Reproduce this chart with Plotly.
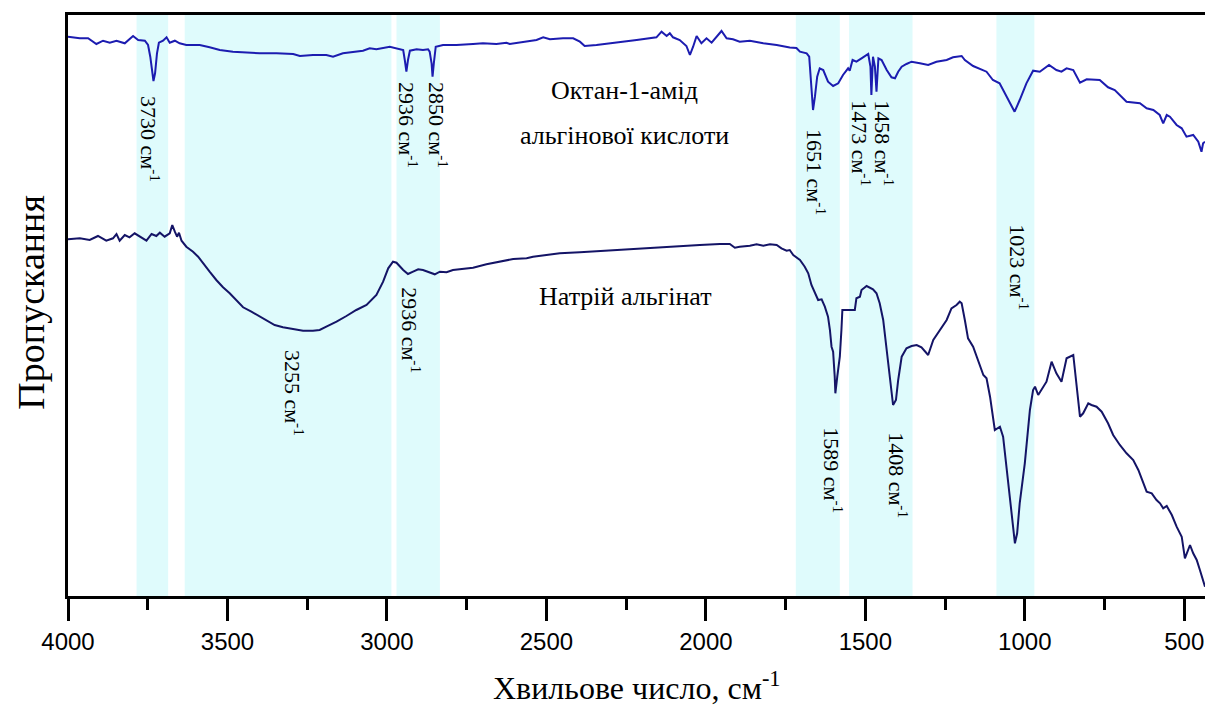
import plotly.graph_objects as go

# ---- Data (wavenumber, cm-1 ; transmittance, arbitrary units) ----
oct_wn = [4000, 3963, 3937, 3911, 3890, 3869, 3848, 3822, 3796, 3780, 3759, 3749, 3742, 3735, 3732, 3727,
          3721, 3715, 3702, 3691, 3681, 3665, 3650, 3629, 3587, 3556, 3524, 3483, 3441, 3399, 3346, 3294,
          3273, 3232, 3190, 3169, 3138, 3106, 3075, 3054, 3033, 2991, 2965, 2949, 2944, 2939, 2934, 2928,
          2907, 2887, 2871, 2866, 2860, 2857, 2853, 2847, 2824, 2782, 2730, 2699, 2657, 2625, 2615, 2573,
          2531, 2510, 2489, 2448, 2416, 2395, 2380, 2343, 2280, 2217, 2155, 2139, 2123, 2113, 2103, 2082,
          2061, 2050, 2040, 2029, 2014, 1998, 1982, 1967, 1951, 1935, 1915, 1894, 1862, 1820, 1778, 1737,
          1716, 1705, 1684, 1676, 1669, 1664, 1658, 1651, 1643, 1632, 1617, 1601, 1585, 1570, 1554, 1549,
          1540, 1528, 1512, 1491, 1484, 1481, 1476, 1470, 1465, 1459, 1449, 1433, 1418, 1407, 1397, 1386,
          1371, 1355, 1329, 1303, 1277, 1245, 1225, 1198, 1188, 1162, 1120, 1100, 1079, 1057, 1032, 1016,
          995, 974, 953, 924, 901, 885, 869, 848, 827, 806, 786, 765, 739, 718, 681, 639,
          618, 597, 577, 566, 555, 545, 524, 508, 493, 472, 456, 446, 441, 435]
oct_T = [559.3, 557.7, 557.7, 552, 555.3, 553.3, 555.3, 552.7, 560, 556, 555.3, 551, 539.3, 522.7, 515, 522.7,
         542.7, 553.3, 555.3, 558.7, 553.3, 555.3, 552.7, 551, 551, 548.7, 546, 544.3, 543.3, 542.7, 542.7, 542,
         540, 541, 541, 539.3, 542.7, 544.3, 545.3, 547.7, 546.7, 549.3, 547.7, 546, 536, 524.3, 536, 545.3,
         546.7, 546, 546.7, 544.3, 532.7, 519.3, 532.7, 549.3, 551, 551, 552, 552.7, 552, 553.3, 552, 554.3,
         556, 558.7, 556.7, 557.7, 557.7, 554.3, 550, 551, 553.3, 556, 558.7, 564.3, 560, 562.7, 558.7, 556,
         550, 541, 549.3, 560, 552.7, 557.7, 553.3, 558.7, 565, 557.7, 556.7, 554.3, 555.3, 552.7, 551, 548.5,
         548, 544.3, 542.7, 539.3, 512.7, 486, 499.3, 519.3, 527.7, 526, 514.3, 510, 512.7, 521, 527.7, 525.3,
         536, 534.3, 537.7, 542, 529.3, 501, 539.3, 529.3, 504.3, 537.7, 536, 526, 518.7, 517.7, 524.3, 529.3,
         532, 534.3, 532.7, 531, 534.3, 536, 538.7, 540, 536, 530, 524.3, 516, 512.7, 499.3, 484.3, 496,
         512.7, 525.3, 524.3, 531, 526, 524.3, 527.7, 526, 513.3, 516.7, 516, 516, 508.7, 506, 494.3, 492.7,
         487.7, 486, 481, 472.7, 481, 479.3, 471, 467.7, 459.3, 461, 454.3, 444.3, 452.7, 454.3]

alg_wn = [4000, 3963, 3932, 3906, 3880, 3859, 3848, 3838, 3822, 3807, 3791, 3770, 3754, 3738, 3723, 3712,
          3697, 3681, 3673, 3665, 3658, 3652, 3644, 3629, 3608, 3592, 3577, 3556, 3535, 3514, 3493, 3472,
          3451, 3425, 3399, 3378, 3352, 3326, 3294, 3263, 3232, 3211, 3190, 3158, 3127, 3096, 3064, 3033,
          3012, 2996, 2981, 2970, 2949, 2934, 2918, 2902, 2887, 2866, 2850, 2834, 2813, 2793, 2761, 2730,
          2688, 2646, 2604, 2562, 2542, 2500, 2458, 2395, 2333, 2270, 2207, 2144, 2082, 2019, 1956, 1925,
          1909, 1894, 1862, 1841, 1820, 1799, 1778, 1763, 1747, 1737, 1726, 1705, 1690, 1679, 1669, 1658,
          1648, 1637, 1627, 1617, 1611, 1606, 1601, 1596, 1594, 1588, 1580, 1575, 1572, 1533, 1528, 1517,
          1512, 1496, 1476, 1465, 1455, 1444, 1434, 1423, 1413, 1404, 1397, 1386, 1371, 1355, 1339, 1324,
          1303, 1287, 1266, 1245, 1230, 1214, 1204, 1198, 1188, 1178, 1162, 1141, 1130, 1120, 1109, 1094,
          1078, 1068, 1057, 1047, 1036, 1031, 1024, 1016, 1000, 984, 974, 968, 958, 942, 932, 916,
          901, 885, 869, 848, 838, 827, 817, 801, 791, 775, 759, 739, 723, 702, 681, 660,
          644, 629, 618, 602, 587, 576, 566, 555, 539, 524, 508, 498, 482, 472, 461, 451, 440, 435]
alg_T = [356.7, 357.7, 356, 360, 355.3, 357.7, 362, 355.3, 361, 358.7, 362.7, 358.7, 355.3, 362, 360, 363.3,
         359.3, 362.7, 371, 364.3, 359.3, 363.3, 355.3, 349.3, 344.3, 339.3, 332.7, 324.3, 316, 308.7, 302.7, 295.3,
         288.7, 284.3, 279.3, 275.3, 271, 268.7, 266.7, 265.3, 265.3, 266, 269.3, 274.3, 280, 286, 291, 301,
         314.3, 327.7, 334.3, 333.3, 326, 322, 324.3, 326.7, 326, 323.3, 321.7, 324.3, 323.7, 326, 327, 328.3,
         331.7, 334.3, 337, 337.7, 339.3, 341, 342.7, 343.7, 345, 346, 347.7, 348.7, 349.7, 351, 352, 352,
         348.3, 349.3, 350.3, 351.7, 350.3, 351.7, 351, 347.7, 345.3, 346, 341, 336, 329.3, 322.7, 311, 302.7,
         296, 296.7, 289.3, 279.3, 266, 249.3, 244.3, 219.3, 202.7, 219.3, 239.3, 266, 286, 286, 297.7, 299.3,
         306, 310, 306.7, 302.7, 292.7, 276, 249.3, 219.3, 191, 196, 216, 239.3, 247.7, 250, 251, 248.7,
         241, 256, 266, 276, 287.7, 291, 294.3, 292.7, 276, 257.7, 249.3, 231, 221, 217.7, 199.3, 166,
         169.3, 159.3, 129.3, 99.3, 69.3, 52.7, 62.7, 92.7, 132.7, 186, 206, 209.3, 201, 209.3, 214.3, 234.3,
         222.7, 214.3, 237.7, 241, 212.7, 179.3, 182.7, 192.7, 191, 189.3, 184.3, 172.7, 161, 151, 142.7, 136,
         126, 112.7, 104.3, 102.7, 96, 92.7, 87.7, 90, 81, 69.3, 59.3, 37.7, 51, 42.7, 36, 26, 12.7, 9.3]

band_start = [3785, 3634, 2970, 1718, 1551, 1089]
band_end = [3686, 2986, 2834, 1580, 1352, 970]

peak_labels = ["3730", "2936", "2850", "1651", "1473", "1458", "1023", "3255", "2936", "1589", "1408"]
label_wn = [3743, 2934, 2840, 1655, 1514, 1442, 1019, 3291, 2925, 1602, 1398]
label_T = [457, 471, 471, 424, 453, 453, 329, 203, 266, 126, 121]

series_names = ["Октан-1-амід альгінової кислоти", "Натрій альгінат"]

x_ticks = [4000, 3500, 3000, 2500, 2000, 1500, 1000, 500]
x_minor = [3750, 3250, 2750, 2250, 1750, 1250, 750]

SERIF = "Liberation Serif"
SANS = "Liberation Sans"

fig = go.Figure()

for s, e in zip(band_start, band_end):
    fig.add_vrect(x0=s, x1=e, fillcolor="#dffbfc", opacity=1, line_width=0, layer="below")

fig.add_trace(go.Scatter(x=oct_wn, y=oct_T, mode="lines", name=series_names[0],
                         line=dict(color="#1c1cb0", width=2)))
fig.add_trace(go.Scatter(x=alg_wn, y=alg_T, mode="lines", name=series_names[1],
                         line=dict(color="#141466", width=2)))

for lab, xw, yt in zip(peak_labels, label_wn, label_T):
    fig.add_annotation(x=xw, y=yt, xref="x", yref="y", text=f"{lab} см<sup>-1</sup>",
                       textangle=90, showarrow=False, xanchor="center", yanchor="middle",
                       font=dict(family=SERIF, size=22, color="black"))

# series labels
fig.add_annotation(x=2255, y=506, xref="x", yref="y", text="Октан-1-амід", showarrow=False,
                   font=dict(family=SERIF, size=26, color="black"))
fig.add_annotation(x=2255, y=461, xref="x", yref="y", text="альгінової кислоти", showarrow=False,
                   font=dict(family=SERIF, size=26, color="black"))
fig.add_annotation(x=2251, y=300, xref="x", yref="y", text="Натрій альгінат", showarrow=False,
                   font=dict(family=SERIF, size=26, color="black"))

# axis titles
fig.add_annotation(x=-0.0325, y=0.505, xref="paper", yref="paper", text="Пропускання",
                   textangle=-90, showarrow=False, xanchor="center", yanchor="middle",
                   font=dict(family=SERIF, size=38, color="black"))
fig.add_annotation(x=0.5, y=-0.155, xref="paper", yref="paper", text="Хвильове число, см<sup>-1</sup>",
                   showarrow=False, xanchor="center", yanchor="middle",
                   font=dict(family=SERIF, size=32, color="black"))

fig.update_layout(
    width=1205, height=706,
    margin=dict(l=68, r=0, t=15, b=110),
    plot_bgcolor="white", paper_bgcolor="white",
    showlegend=False,
    xaxis=dict(range=[4000, 435], tickmode="array", tickvals=x_ticks,
               ticktext=[str(v) for v in x_ticks],
               ticks="outside", ticklen=22, tickwidth=2.5, tickcolor="black",
               showline=True, linewidth=3, linecolor="black", mirror=True,
               showgrid=False, zeroline=False,
               tickfont=dict(family=SANS, size=24, color="black"),
               minor=dict(ticks="outside", ticklen=11, tickwidth=2.5, tickcolor="black",
                          tickmode="array", tickvals=x_minor, showgrid=False)),
    yaxis=dict(range=[0, 581], showline=True, linewidth=3, linecolor="black",
               showticklabels=False, ticks="", showgrid=False, zeroline=False),
)

fig.write_html("out.html")
